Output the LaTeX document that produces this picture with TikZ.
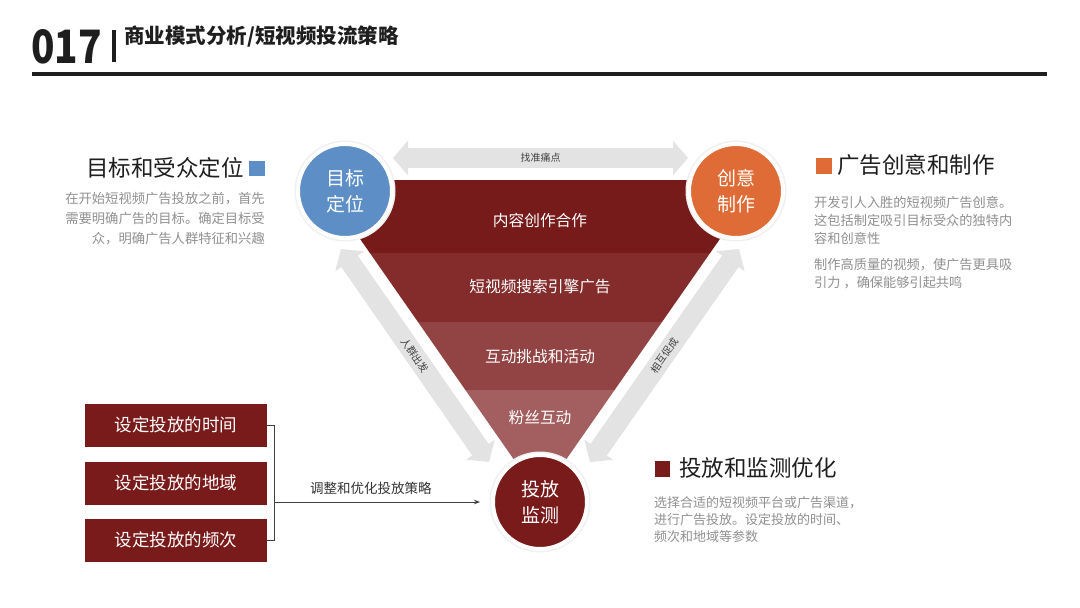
\documentclass[tikz,border=0pt]{standalone}
\usepackage{fontspec}
\setmainfont{Noto Sans CJK SC}
\usetikzlibrary{arrows.meta}
\definecolor{dred}{HTML}{7A1B1B}
\definecolor{bandA}{HTML}{761A1A}
\definecolor{bandB}{HTML}{842C2C}
\definecolor{bandC}{HTML}{924343}
\definecolor{bandD}{HTML}{A35F5F}
\definecolor{cblue}{HTML}{5D8EC5}
\definecolor{corange}{HTML}{DF6B36}
\definecolor{agray}{HTML}{E3E3E3}
\definecolor{tgray}{HTML}{909090}
\definecolor{hblack}{HTML}{1E1E1E}
\newcommand{\myfs}[2]{\fontsize{#1}{#2}\selectfont}
\begin{document}
\begin{tikzpicture}[x=1pt,y=-1pt,
  garrow/.style={line width=20pt, draw=agray,
    {Triangle[width=34pt,length=15pt]}-{Triangle[width=34pt,length=15pt]}},
  alabel/.style={font=\myfs{10}{12}, text=black!75, inner sep=0},
  circ/.style={circle, draw=white, line width=4pt, minimum size=94pt, inner sep=0,
    align=center, text=white, font=\myfs{19}{26},
    preaction={draw=black!6, line width=7pt}},
  pbox/.style={fill=dred, text=white, minimum width=182pt, minimum height=43pt,
    inner sep=0, font=\myfs{17.5}{20}},
  bandlabel/.style={text=white, font=\myfs{15.7}{18}, inner sep=0},
  bline/.style={draw=black!75, line width=0.8pt},
  head/.style={text=hblack, font=\myfs{22.5}{26}, inner sep=0},
  sq/.style={minimum size=15.5pt, inner sep=0},
  ptext/.style={text=tgray, font=\myfs{13.2}{18}, inner sep=0}
]
\useasboundingbox (0,0) rectangle (1080,608);
\fill[white] (0,0) rectangle (1080,608);

% header
\node[anchor=base west, font=\myfs{46}{46}\bfseries, text=hblack, inner sep=0, xscale=0.84] (num) at (31,63) {017};
\fill[hblack] (112,30) rectangle (115.5,62);
\node[anchor=west, font=\myfs{20.5}{24}\bfseries, text=hblack, inner sep=0] (title) at (124,37) {商业模式分析/短视频投流策略};
\fill[hblack] (32,72) rectangle (1047,76);

% gray arrows
\coordinate (ta1) at (393,158);
\coordinate (ta2) at (688,158);
\draw[garrow] (ta1) -- node[alabel]{找准痛点} (ta2);
\coordinate (la1) at (341,249);
\coordinate (la2) at (489,462);
\draw[garrow] (la1) -- node[alabel, sloped]{人群出发} (la2);
\coordinate (ra1) at (590,462);
\coordinate (ra2) at (739,249);
\draw[garrow] (ra1) -- node[alabel, sloped]{相互促成} (ra2);

% funnel triangle
\begin{scope}
\clip (319,180) -- (761,180) -- (540,497) -- cycle;
\fill[bandA] (300,179) rectangle (780,253);
\fill[bandB] (300,253) rectangle (780,322);
\fill[bandC] (300,322) rectangle (780,390);
\fill[bandD] (300,390) rectangle (780,500);
\end{scope}
\node[bandlabel] (b1l) at (540,220) {内容创作合作};
\node[bandlabel] (b2l) at (540,287) {短视频搜索引擎广告};
\node[bandlabel] (b3l) at (540,357) {互动挑战和活动};
\node[bandlabel] (b4l) at (540,418) {粉丝互动};

% circles
\node[circ, fill=cblue] (goal) at (345,191) {目标\\定位};
\node[circ, fill=corange] (create) at (736,191) {创意\\制作};
\node[circ, fill=dred] (mon) at (540,502) {投放\\监测};

% left boxes
\node[pbox] (s1) at (176,425) {设定投放的时间};
\node[pbox] (s2) at (176,483) {设定投放的地域};
\node[pbox] (s3) at (176,540) {设定投放的频次};
\draw[bline] (s1.east) -- ++(7,0) coordinate (bk) -- (bk |- s3.east) -- (s3.east);
\draw[bline, -{Stealth[length=6pt,width=4.5pt]}] (bk |- mon) -- node[pos=0.47, above, inner sep=0, yshift=7pt, font=\myfs{13.5}{16}, text=black!80]{调整和优化投放策略} ([xshift=-11pt]mon.west);

% text blocks
\node[head, anchor=east] (h1) at (244,168) {目标和受众定位};
\node[sq, fill=cblue] (q1) at (257,168.5) {};
\node[ptext, anchor=east, align=right, font=\myfs{13.3}{20}] (p1) at (265,219) {在开始短视频广告投放之前，首先\\需要明确广告的目标。确定目标受\\众，明确广告人群特征和兴趣};

\node[sq, fill=corange] (q2) at (824,166) {};
\node[head, anchor=west] (h2) at (837,165) {广告创意和制作};
\node[ptext, anchor=west, align=left] (p2) at (814,220) {开发引人入胜的短视频广告创意。\\这包括制定吸引目标受众的独特内\\容和创意性};
\node[ptext, anchor=west, align=left] (p3) at (814,274) {制作高质量的视频，使广告更具吸\\引力 ，确保能够引起共鸣};

\node[sq, fill=dred] (q3) at (662.5,469) {};
\node[head, anchor=west] (h3) at (679,468) {投放和监测优化};
\node[ptext, anchor=west, align=left, font=\myfs{13}{17}] (p4) at (654,520) {选择合适的短视频平台或广告渠道，\\进行广告投放。设定投放的时间、\\频次和地域等参数};
\end{tikzpicture}
\end{document}
